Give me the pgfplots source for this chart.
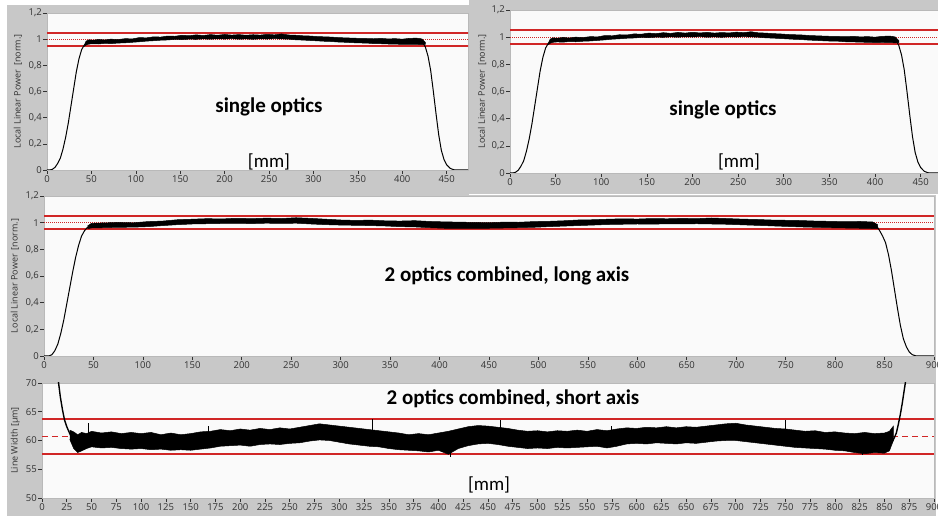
\documentclass[border=0pt]{standalone}
\usepackage{pgfplots}
\usepackage{pgfplotstable}
\pgfplotsset{compat=1.18}
\usepackage{fontspec}
\setmainfont{Open Sans}
\newfontfamily\labelfont{Carlito}

\definecolor{panelgray}{RGB}{200,200,200}
\definecolor{plotbg}{RGB}{250,250,250}
\definecolor{lvred}{RGB}{208,38,38}
\definecolor{ticktext}{RGB}{50,50,50}

% single optics, rising and falling edge
\pgfplotstableread{
x y
0 0
3 0
6 0.005
9 0.02
12 0.05
15 0.09
18 0.16
21 0.25
24 0.36
27 0.49
30 0.62
33 0.75
36 0.85
39 0.92
42 0.955
45 0.97
48 0.978
}\riseTop
\pgfplotstableread{
x y
423 0.975
426 0.94
429 0.87
432 0.76
435 0.60
438 0.43
441 0.27
444 0.15
447 0.08
450 0.04
454 0.012
458 0.002
462 0
480 0
}\fallTop
% single optics, noisy plateau (upper edge, then lower edge back)
\pgfplotstableread{
x y
42 0.955
44 0.985
47 0.995
52 0.992
58 0.998
65 0.994
72 1.000
80 0.997
88 1.004
96 1.002
104 1.012
112 1.010
120 1.018
128 1.016
136 1.024
144 1.022
152 1.030
160 1.026
168 1.033
176 1.028
184 1.035
192 1.030
200 1.036
208 1.031
216 1.035
224 1.030
232 1.034
240 1.031
248 1.037
256 1.033
264 1.040
272 1.032
280 1.030
288 1.026
296 1.024
304 1.020
312 1.018
320 1.016
328 1.012
336 1.010
344 1.008
352 1.006
360 1.005
368 1.003
376 1.006
384 1.002
392 1.004
400 1.000
408 1.006
416 1.008
422 1.002
426 0.975
426 0.960
422 0.958
416 0.960
408 0.961
400 0.960
392 0.962
384 0.963
376 0.965
368 0.966
360 0.970
352 0.971
344 0.973
336 0.976
328 0.978
320 0.982
312 0.984
304 0.987
296 0.990
288 0.993
280 0.995
272 1.000
264 1.002
256 1.004
248 1.001
240 1.003
232 0.999
224 1.002
216 1.000
208 1.004
200 1.001
192 1.003
184 1.000
176 1.002
168 0.999
160 1.000
152 0.997
144 0.998
136 0.994
128 0.992
120 0.988
112 0.985
104 0.980
96 0.976
88 0.972
80 0.970
72 0.966
65 0.968
58 0.963
52 0.965
47 0.962
44 0.955
42 0.945
}\bandTop

% 2 optics, long axis
\pgfplotstableread{
x y
0 0
5 0
8 0.01
11 0.04
14 0.09
17 0.17
20 0.27
23 0.39
26 0.51
29 0.63
32 0.74
35 0.83
38 0.90
41 0.94
44 0.965
47 0.975
}\riseLong
\pgfplotstableread{
x y
842 0.975
845 0.94
848 0.90
851 0.85
854 0.76
857 0.64
860 0.50
863 0.36
866 0.23
869 0.13
872 0.07
875 0.03
878 0.01
882 0
900 0
}\fallLong
\pgfplotstableread{
x y
44 0.975
48 0.995
60 0.998
75 1.002
90 0.999
105 1.008
120 1.012
135 1.022
150 1.026
165 1.030
180 1.028
195 1.033
210 1.030
225 1.034
240 1.031
255 1.037
270 1.032
285 1.026
300 1.020
315 1.017
330 1.019
345 1.014
360 1.012
375 1.015
390 1.009
405 1.006
420 1.004
435 1.002
450 1.000
465 1.004
480 1.003
495 1.008
510 1.010
525 1.014
540 1.020
555 1.022
570 1.026
585 1.029
600 1.027
615 1.031
630 1.029
645 1.032
660 1.030
675 1.035
690 1.031
705 1.027
720 1.024
735 1.020
750 1.018
765 1.016
780 1.012
795 1.010
810 1.007
825 1.009
838 1.005
843 0.985
843 0.955
838 0.956
825 0.958
810 0.960
795 0.962
780 0.965
765 0.968
750 0.972
735 0.976
720 0.980
705 0.984
690 0.988
675 0.990
660 0.992
645 0.990
630 0.991
615 0.989
600 0.990
585 0.988
570 0.986
555 0.982
540 0.978
525 0.974
510 0.970
495 0.965
480 0.962
465 0.960
450 0.958
435 0.957
420 0.958
405 0.958
390 0.962
375 0.968
360 0.970
345 0.975
330 0.978
315 0.980
300 0.982
285 0.985
270 0.990
255 0.996
240 0.994
225 0.996
210 0.993
195 0.995
180 0.994
165 0.992
150 0.990
135 0.985
120 0.978
105 0.970
90 0.966
75 0.965
60 0.962
48 0.960
44 0.955
}\bandLong

% 2 optics, short axis (line width)
\pgfplotstableread{
x y
14 75
16 71
18.4 67.7
20.7 65.3
22.7 63.6
25 62.4
28 61.2
30 60.5
}\edgeShortL
\pgfplotstableread{
x y
857 59.5
860 60.5
862 61.3
864 62.8
866 64.5
868 66.5
870 68.8
872 71
874 73
}\edgeShortR
\pgfplotstableread{
x y
28 61.8
32 61.5
36 61.0
40 61.4
45 61.2
50 61.6
60 61.3
70 61.5
80 61.2
90 61.4
100 61.2
110 61.4
120 61.0
130 61.3
140 61.0
150 61.2
160 61.5
170 61.6
180 61.9
190 61.7
200 62.0
210 61.8
220 62.1
230 61.9
240 62.2
250 62.0
260 62.3
270 62.6
280 62.9
290 62.7
300 62.5
310 62.3
320 62.1
330 61.9
340 61.7
350 61.5
360 61.3
370 61.0
380 61.2
390 61.0
400 61.3
410 61.6
420 62.0
430 62.4
440 62.6
450 62.5
460 62.3
470 62.1
480 61.8
490 61.6
500 61.7
510 61.5
520 61.7
530 61.6
540 61.8
550 61.6
560 61.9
570 61.7
580 62.0
590 62.2
600 62.1
610 62.3
620 62.2
630 62.4
640 62.2
650 62.4
660 62.3
670 62.5
680 62.7
690 62.9
700 63.0
710 62.7
720 62.5
730 62.3
740 62.1
750 62.0
760 61.8
770 61.6
780 61.7
790 61.4
800 61.5
810 61.3
820 61.2
830 61.4
840 61.2
850 61.3
855 61.6
859 62.5
859 60.0
855 58.2
850 57.8
840 57.9
830 57.7
820 57.9
810 58.2
800 58.3
790 58.5
780 58.6
770 58.7
760 58.8
750 59.0
740 59.2
730 59.4
720 59.6
710 59.8
700 60.0
690 60.0
680 59.9
670 59.7
660 59.5
650 59.6
640 59.4
630 59.5
620 59.6
610 59.4
600 59.5
590 59.4
580 59.0
570 58.7
560 59.0
550 58.9
540 58.8
530 58.7
520 58.8
510 58.6
500 58.7
490 58.6
480 58.8
470 59.0
460 59.3
450 59.5
440 59.4
430 59.1
420 58.6
410 57.6
400 58.3
390 58.0
380 58.2
370 58.3
360 58.4
350 58.6
340 58.9
330 59.0
320 59.2
310 59.4
300 59.7
290 60.0
280 60.1
270 59.9
260 59.6
250 59.5
240 59.3
230 59.4
220 59.3
210 59.0
200 59.2
190 59.1
180 59.0
170 58.7
160 58.5
150 58.3
140 58.4
130 58.3
120 58.5
110 58.4
100 58.6
90 58.5
80 58.6
70 58.8
60 58.7
50 58.9
45 58.6
40 58.2
36 57.9
32 58.6
28 60.2
}\bandShort

\pgfplotsset{
  lvaxis/.style={
    scale only axis,
    anchor=south west,
    axis background/.style={fill=plotbg},
    axis line style={draw=gray!55, line width=0.4pt},
    tick align=outside,
    xtick pos=left, ytick pos=left,
    major tick length=4pt,
    tick style={ticktext, line width=0.6pt},
    tick label style={font=\fontsize{9.5}{9.5}\selectfont, text=ticktext},
    /pgf/number format/assume math mode=true,
    yticklabel style={inner sep=1pt},
    xticklabel style={inner sep=1.5pt},
    ylabel style={font=\fontsize{9}{9}\selectfont, text=ticktext, anchor=center},
  },
  topaxis/.style={
    lvaxis,
    ymin=0, ymax=1.2,
    xtick={0,50,100,150,200,250,300,350,400,450},
    ytick={0,0.2,0.4,0.6,0.8,1,1.2},
    yticklabels={0,{0,2},{0,4},{0,6},{0,8},1,{1,2}},
    ylabel={Local Linear Power \,[norm.]},
  },
  redline/.style={lvred, line width=1.8pt},
  curve/.style={black, line width=1pt},
  band/.style={black, fill=black, line width=0.5pt},
}

\begin{document}
\begin{tikzpicture}
\useasboundingbox (0pt,0pt) rectangle (938pt,516pt);
\fill[white] (0pt,0pt) rectangle (938pt,516pt);
\fill[panelgray] (7pt,0pt) rectangle (936pt,134pt);
\fill[panelgray] (7pt,134pt) rectangle (936pt,321pt);
\fill[panelgray] (7pt,321pt) rectangle (469pt,511pt);
\fill[panelgray] (469pt,322pt) rectangle (938pt,516pt);

% top left
\begin{axis}[topaxis, at={(47pt,346pt)}, width=421pt, height=157pt,
  xmin=0, xmax=474,
  ylabel style={at={(axis description cs:-0.069,0.5)}}]
  \addplot[redline] coordinates {(0,1.05) (480,1.05)};
  \addplot[redline] coordinates {(0,0.95) (480,0.95)};
  \addplot[lvred, line width=1pt, densely dotted] coordinates {(0,1) (480,1)};
  \addplot[curve] table {\riseTop};
  \addplot[curve] table {\fallTop};
  \addplot[band] table {\bandTop};
\end{axis}

% top right
\begin{axis}[topaxis, at={(510pt,343pt)}, width=428pt, height=163pt,
  xmin=0, xmax=469,
  ylabel style={at={(axis description cs:-0.065,0.5)}}]
  \addplot[redline] coordinates {(0,1.05) (480,1.05)};
  \addplot[redline] coordinates {(0,0.95) (480,0.95)};
  \addplot[lvred, line width=1pt, densely dotted] coordinates {(0,1) (480,1)};
  \addplot[curve] table {\riseTop};
  \addplot[curve] table {\fallTop};
  \addplot[band] table {\bandTop};
\end{axis}

% middle, long axis
\begin{axis}[topaxis, at={(44pt,160pt)}, width=890pt, height=160pt,
  xmin=0, xmax=900,
  xtick={0,50,...,900},
  ylabel style={at={(axis description cs:-0.0326,0.5)}}]
  \addplot[redline] coordinates {(0,1.05) (900,1.05)};
  \addplot[redline] coordinates {(0,0.95) (900,0.95)};
  \addplot[lvred, line width=1pt, densely dotted] coordinates {(0,1) (900,1)};
  \addplot[curve] table {\riseLong};
  \addplot[curve] table {\fallLong};
  \addplot[band] table {\bandLong};
\end{axis}

% bottom, short axis
\begin{axis}[lvaxis, at={(42pt,18pt)}, width=892pt, height=115pt,
  xmin=0, xmax=900, ymin=50, ymax=70,
  xtick={0,25,...,900},
  ytick={50,55,60,65,70},
  ylabel={Line Width [µm]},
  ylabel style={at={(axis description cs:-0.030,0.5)}}]
  \addplot[redline] coordinates {(0,63.7) (900,63.7)};
  \addplot[redline] coordinates {(0,57.7) (900,57.7)};
  \addplot[lvred, line width=1.2pt, dash pattern=on 6pt off 4pt] coordinates {(0,60.7) (900,60.7)};
  \addplot[black, line width=1.4pt] table {\edgeShortL};
  \addplot[black, line width=1.4pt] table {\edgeShortR};
  \addplot[band] table {\bandShort};
  \addplot[black, line width=0.8pt] coordinates {(47,60.5) (47,63.1)};
  \addplot[black, line width=0.8pt] coordinates {(168,61) (168,62.6)};
  \addplot[black, line width=0.8pt] coordinates {(333,60) (333,63.8)};
  \addplot[black, line width=0.8pt] coordinates {(412,58.5) (412,57.2)};
  \addplot[black, line width=0.8pt] coordinates {(463,60.5) (463,63.6)};
  \addplot[black, line width=0.8pt] coordinates {(575,59) (575,62.6)};
  \addplot[black, line width=0.8pt] coordinates {(750,60) (750,63.5)};
  \addplot[black, line width=0.8pt] coordinates {(828,58.5) (828,57.4)};
\end{axis}

% annotations
\node[font=\labelfont\bfseries\fontsize{21}{21}\selectfont] at (269pt,409pt) {single optics};
\node[font=\labelfont\fontsize{19}{19}\selectfont] at (269pt,354pt) {[mm]};
\node[font=\labelfont\bfseries\fontsize{21}{21}\selectfont] at (723pt,406pt) {single optics};
\node[font=\labelfont\fontsize{19}{19}\selectfont] at (739pt,354pt) {[mm]};
\node[font=\labelfont\bfseries\fontsize{21}{21}\selectfont] at (507pt,240pt) {2 optics combined, long axis};
\node[font=\labelfont\bfseries\fontsize{21}{21}\selectfont] at (513pt,117pt) {2 optics combined, short axis};
\node[font=\labelfont\fontsize{19}{19}\selectfont] at (489pt,31pt) {[mm]};
\end{tikzpicture}
\end{document}
